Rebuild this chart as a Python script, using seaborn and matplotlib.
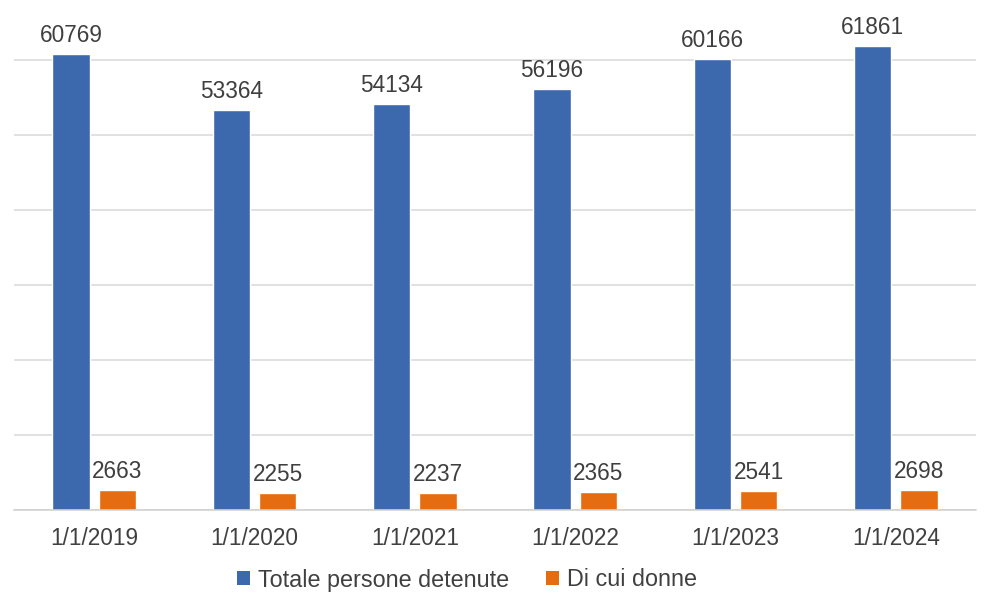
import matplotlib
matplotlib.use("Agg")
import matplotlib.pyplot as plt
from matplotlib.patches import Patch
import seaborn as sns
import pandas as pd

dates = ["1/1/2019", "1/1/2020", "1/1/2021", "1/1/2022", "1/1/2023", "1/1/2024"]
totale = [60769, 53364, 54134, 56196, 60166, 61861]
donne = [2663, 2255, 2237, 2365, 2541, 2698]
series = ["Totale persone detenute", "Di cui donne"]
colors = ["#3C69AD", "#E66C12"]

df = pd.DataFrame({
    "data": dates * 2,
    "valore": totale + donne,
    "serie": [series[0]] * len(dates) + [series[1]] * len(dates),
})

sns.set_theme(style="white")
plt.rcParams["font.family"] = ["Liberation Sans", "DejaVu Sans"]

fig = plt.figure(figsize=(9.84, 5.97), dpi=100)
ax = fig.add_axes([14 / 984, 1 - 510 / 597, 962 / 984, 510 / 597])

sns.barplot(data=df, x="data", y="valore", hue="serie", order=dates,
            hue_order=series, palette=colors, width=0.58, gap=0.2,
            saturation=1, legend=False, ax=ax)

ax.set_ylim(0, 68000)
ax.set_xlim(-0.5, len(dates) - 0.5)
ax.set_yticks(range(0, 70000, 10000))
ax.set_yticklabels([])
ax.yaxis.grid(True, color="#D9D9D9", linewidth=1.1)
ax.set_axisbelow(True)
for side in ["left", "right", "top"]:
    ax.spines[side].set_visible(False)
ax.spines["bottom"].set_color("#D0D0D0")
ax.spines["bottom"].set_linewidth(1.1)
ax.tick_params(axis="y", length=0)
ax.set_xticks([i - 0.5 for i in range(len(dates) + 1)], minor=True)
ax.tick_params(axis="x", which="minor", length=6, color="#D0D0D0", width=1.1)
ax.tick_params(axis="x", which="major", length=0, pad=12, labelsize=16.3,
               labelcolor="#404040")
ax.set_xlabel("")
ax.set_ylabel("")

for cont in ax.containers:
    ax.bar_label(cont, fmt="%d", padding=5, fontsize=16.3, color="#3F3F3F")

handles = [Patch(facecolor=c, edgecolor="none") for c in colors]
fig.legend(handles, series, loc="center", bbox_to_anchor=(467 / 984, 1 - 580 / 597),
           ncol=2, frameon=False, fontsize=16.8, handlelength=0.55, handleheight=0.55,
           handletextpad=0.35, columnspacing=1.6, labelcolor="#404040")

fig.savefig("out.png", dpi=100)
